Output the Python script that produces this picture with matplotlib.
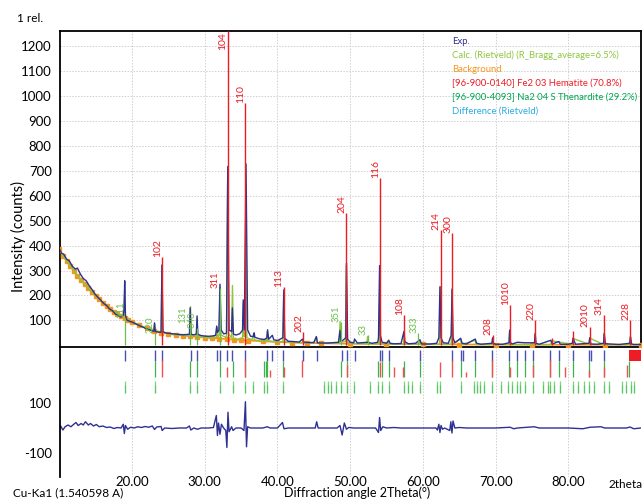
import matplotlib
matplotlib.use("Agg")
import matplotlib.pyplot as plt
import numpy as np

plt.rcParams['font.family'] = ['Lato', 'DejaVu Sans']

# ---------------- data ----------------
# Background (orange)
bg_theta = [10, 10.5, 11, 11.5, 12, 12.5, 13, 13.5, 14, 14.5, 15, 15.5, 16, 16.5, 17, 17.5,
            18, 18.5, 19, 19.5, 20, 21, 22, 23, 24, 25, 26, 27, 28, 29, 30, 31, 32, 33, 34,
            35, 36, 38, 40, 42, 44, 46, 50, 55, 60, 65, 70, 75, 80, 85, 90]
bg_int = [385, 360, 338, 318, 298, 280, 262, 245, 228, 212, 198, 184, 170, 158, 146, 135,
          125, 116, 108, 100, 93, 80, 68, 58, 51, 46, 42, 39, 36, 33, 31, 29, 27, 25, 23,
          21, 19, 16, 13, 11, 9, 8, 6, 5, 4, 3, 3, 2, 2, 2, 2]

# Experimental pattern (navy)
exp_theta = [10.0, 10.3, 10.6, 11.0, 11.4, 11.8, 12.2, 12.5, 12.9, 13.3,
             13.7, 14.1, 14.5, 14.9, 15.3, 15.7, 16.1, 16.5, 16.9, 17.3,
             17.7, 18.1, 18.5, 18.8, 18.9, 19.0, 19.1, 19.3, 19.7, 20.1,
             20.5, 21.0, 21.5, 22.0, 22.5, 23.0, 23.1, 23.2, 23.6, 24.0,
             24.12, 24.25, 24.6, 25.0, 26.0, 27.0, 27.9, 28.0, 28.1, 28.5,
             28.85, 28.95, 29.05, 29.5, 30.0, 30.5, 31.0, 31.5, 31.65, 31.75,
             31.95, 32.1, 32.25, 32.6, 33.0, 33.17, 33.35, 33.7, 33.8, 33.95,
             34.3, 34.8, 35.2, 35.3, 35.45, 35.68, 35.9, 36.3, 36.7, 36.8,
             36.9, 37.5, 38.2, 38.55, 38.65, 38.8, 39.3, 39.5, 40.0, 40.75,
             40.88, 41.0, 41.5, 42.0, 43.0, 43.45, 43.6, 44.0, 45.0, 45.35,
             45.5, 46.0, 47.0, 48.4, 48.6, 48.75, 49.0, 49.4, 49.5, 49.65,
             50.0, 50.5, 50.6, 51.0, 52.4, 53.0, 53.8, 53.9, 54.05, 54.15,
             54.4, 55.0, 55.3, 55.5, 56.0, 57.0, 57.4, 57.5, 58.0, 59.0,
             59.6, 59.8, 60.0, 61.0, 61.9, 62.2, 62.35, 62.5, 62.8, 63.5,
             63.9, 64.02, 64.15, 64.4, 65.2, 65.4, 66.0, 67.2, 67.4, 68.0,
             69.5, 69.6, 69.7, 70.0, 71.0, 71.85, 71.94, 72.05, 72.3, 73.0,
             74.0, 75.35, 75.45, 75.55, 76.0, 77.6, 77.8, 78.7, 78.9, 80.0,
             80.55, 80.65, 81.0, 82.85, 82.95, 83.1, 84.0, 84.85, 84.95, 85.1,
             87.0, 88.45, 88.55, 88.7, 89.0, 90.0]
exp_int = [388, 370, 366, 346, 338, 317, 306, 310, 286, 268,
           259, 240, 224, 206, 193, 181, 168, 160, 146, 139,
           126, 119, 113, 121, 140, 259, 120, 101, 96, 92,
           86, 79, 73, 66, 61, 56, 90, 55, 53, 52,
           322, 55, 50, 48, 45, 42, 44, 150, 44, 42,
           45, 118, 44, 39, 37, 36, 37, 40, 77, 52,
           60, 245, 62, 46, 48, 718, 62, 55, 150, 45,
           41, 46, 60, 182, 62, 728, 62, 36, 35, 50,
           32, 26, 23, 30, 62, 24, 40, 22, 19, 30,
           222, 28, 16, 15, 13, 25, 13, 11, 11, 35,
           10, 9, 9, 12, 60, 15, 20, 30, 330, 25,
           12, 10, 25, 9, 12, 8, 12, 30, 320, 40,
           12, 8, 20, 8, 6, 7, 55, 15, 6, 8,
           22, 6, 5, 5, 8, 30, 235, 30, 10, 8,
           40, 226, 30, 10, 28, 8, 5, 25, 8, 4,
           8, 30, 8, 4, 4, 10, 61, 10, 5, 12,
           10, 10, 48, 8, 4, 20, 5, 15, 4, 4,
           8, 29, 4, 8, 30, 5, 4, 8, 48, 6,
           3, 8, 35, 5, 3, 3]

# Calculated (Rietveld) pattern (light green)
calc_theta = [10.0, 11.0, 12.0, 13.0, 14.0, 15.0, 16.0, 17.0, 18.0, 18.9,
              19.0, 19.1, 20.0, 21.0, 22.0, 23.0, 23.1, 23.2, 24.0, 24.13,
              24.25, 25.0, 26.0, 27.0, 27.95, 28.05, 28.15, 28.85, 28.95, 29.05,
              30.0, 31.0, 31.6, 31.7, 31.8, 32.0, 32.12, 32.25, 33.0, 33.15,
              33.3, 33.7, 33.82, 33.95, 34.5, 35.2, 35.3, 35.4, 35.55, 35.66,
              35.8, 36.5, 36.7, 36.8, 37.5, 38.5, 38.6, 38.7, 39.5, 40.75,
              40.86, 41.0, 42.0, 43.4, 43.52, 43.65, 45.0, 45.4, 45.5, 46.5,
              48.5, 48.62, 48.75, 49.35, 49.48, 49.6, 50.5, 52.3, 52.4, 52.5,
              54.0, 54.09, 54.2, 55.2, 55.3, 55.4, 57.35, 57.45, 57.55, 59.5,
              59.6, 59.7, 62.3, 62.43, 62.55, 63.9, 64.01, 64.12, 65.2, 65.3,
              67.2, 67.3, 69.5, 69.6, 69.7, 71.85, 71.94, 72.05, 75.35, 75.43,
              75.55, 77.6, 77.7, 80.6, 80.7, 82.9, 82.98, 84.85, 84.92, 85.0,
              88.45, 88.55, 88.65, 90.0]
calc_int = [383, 340, 300, 262, 229, 199, 171, 147, 126, 120,
            222, 112, 94, 81, 69, 62, 85, 59, 53, 322,
            52, 46, 42, 39, 40, 155, 38, 37, 110, 36,
            31, 29, 32, 72, 34, 40, 235, 40, 32, 655,
            45, 30, 240, 28, 24, 30, 170, 35, 40, 625,
            30, 22, 45, 22, 18, 17, 55, 18, 15, 14,
            210, 14, 12, 10, 22, 10, 9, 30, 9, 8,
            8, 95, 12, 15, 322, 12, 7, 6, 35, 6,
            6, 316, 6, 6, 20, 5, 5, 55, 5, 5,
            20, 5, 4, 235, 4, 4, 222, 4, 25, 3,
            20, 3, 3, 28, 3, 3, 58, 3, 3, 45,
            3, 3, 18, 3, 27, 3, 28, 3, 45, 3,
            3, 33, 3, 3]

# Hematite sticks (red) and labels
hem_theta = [24.14, 33.15, 35.61, 40.85, 43.52, 49.48, 54.09, 57.43, 62.45, 64.02,
             69.60, 71.94, 75.43, 77.70, 80.70, 82.96, 84.90, 88.55]
hem_int = [355, 1262, 973, 235, 53, 531, 672, 121, 463, 450,
           41, 162, 101, 30, 57, 73, 121, 101]
hem_labels = ['102', '104', '110', '113', '202', '204', '116', '108', '214', '300',
              '208', '1010', '220', '', '', '2010', '314', '228']

# Thenardite sticks (green) and labels
then_theta = [19.03, 23.10, 28.03, 28.97, 32.10, 48.75, 52.40, 59.40]
then_int = [110, 50, 90, 70, 230, 93, 41, 50]
then_labels = ['111', '220', '131', '040', '311', '351', '33', '333']
then_label_color = ['g', 'g', 'g', 'g', 'r', 'g', 'g', 'g']

# Peak-position markers (lower panel)
obs_pos = [19.0, 23.1, 24.1, 28.1, 28.9, 31.7, 32.1, 33.1, 33.8, 35.6, 38.6, 39.3, 40.8,
           43.5, 45.4, 48.9, 49.5, 50.7, 54.1, 54.4, 55.3, 59.6, 64.0, 65.3, 65.5, 67.2,
           69.5, 71.9, 73.0, 74.0, 75.2, 77.5, 78.7, 80.6, 82.9, 83.1, 84.9]
hem_mark_pos = [24.1, 33.1, 35.6, 39.0, 40.85, 43.4, 49.5, 54.1, 56.1, 57.3,
                62.4, 64.0, 65.9, 69.5, 72.0, 75.1, 77.5, 79.5, 82.8, 84.9,
                88.1]
hem_mark_len = [17, 10, 17, 7, 10, 17, 12, 15, 10, 10,
                15, 17, 5, 17, 10, 12, 17, 10, 7, 10,
                12]
then_mid_pos = [23.1, 28.0, 28.9, 32.1, 33.9, 35.6, 38.2, 38.4, 38.6, 40.8, 48.7, 49.5, 53.9,
                54.4, 55.3, 57.4, 59.6, 65.2, 67.2, 69.5, 71.9, 73.0, 74.0, 75.2, 77.5, 78.7,
                80.6, 82.9, 84.9, 88.3]
then_low_pos = [19.0, 23.1, 28.0, 28.9, 32.1, 33.9, 35.6, 36.7, 38.2, 38.6, 40.8, 46.4, 47.0,
                47.3, 48.0, 48.7, 49.5, 50.5, 52.7, 53.9, 54.4, 55.3, 57.4, 57.9, 58.5, 59.6,
                61.9, 62.3, 65.2, 67.1, 67.4, 67.9, 68.4, 69.5, 70.7, 71.7, 72.3, 72.9, 73.4,
                74.0, 75.2, 76.5, 77.2, 77.5, 78.0, 78.8, 80.7, 81.4, 82.1, 82.8, 83.5, 84.9,
                85.6, 87.4, 87.9, 88.6, 89.0]

# Difference curve
diff_theta = [10.0, 10.2, 10.5, 10.8, 11.2, 11.6, 12.0, 12.3, 12.6, 13.0,
              13.3, 13.6, 14.0, 14.3, 14.7, 15.1, 15.5, 16.0, 16.5, 17.0,
              17.5, 18.0, 18.5, 18.8, 18.95, 19.1, 19.4, 19.8, 20.3, 20.8,
              21.3, 21.8, 22.3, 22.8, 23.1, 23.4, 24.0, 24.15, 24.5, 25.5,
              26.5, 27.5, 27.9, 28.1, 28.5, 29.0, 29.5, 30.5, 31.2, 31.6,
              31.75, 31.9, 32.1, 32.3, 32.6, 32.9, 33.05, 33.2, 33.35, 33.7,
              33.9, 34.3, 35.0, 35.4, 35.6, 35.75, 35.9, 36.3, 37.0, 38.0,
              38.6, 39.0, 40.0, 40.7, 40.9, 41.5, 43.0, 44.0, 45.2, 45.4,
              45.6, 47.0, 48.2, 48.6, 48.9, 49.2, 49.5, 49.8, 50.5, 53.5,
              53.9, 54.05, 54.2, 54.5, 55.0, 56.0, 57.0, 59.0, 61.8, 62.0,
              62.2, 62.35, 62.5, 62.7, 63.0, 63.7, 63.85, 64.0, 64.15, 64.4,
              65.0, 66.0, 70.0, 72.0, 72.5, 73.0, 75.3, 76.0, 80.0, 82.0,
              83.0, 84.5, 85.0, 88.0, 88.5, 89.0, 90.0]
diff_int = [-5, 8, -8, 5, 12, 5, 15, 22, 10, 18,
            12, 25, 12, 18, 8, 14, 5, 8, 2, 4,
            -2, 2, 0, 15, -22, 10, -5, 3, 0, 5,
            2, 6, 3, 8, -6, 4, 6, -10, 0, -2,
            0, 0, 8, -8, 0, -5, 0, 0, 2, 50,
            -30, 20, -25, 15, 0, -10, -78, 63, -15, 5,
            -10, 0, 0, -10, 105, -75, 5, 0, 0, 0,
            5, 0, 0, 22, -3, 0, 0, 0, 0, 25,
            0, 0, 0, 10, -28, 20, -5, 2, 0, 0,
            -18, 42, -10, 5, 0, 2, 0, 0, 0, -8,
            15, -18, 10, -5, 0, -10, 25, -20, 28, 0,
            2, 0, 0, 3, -3, 0, 5, 0, 0, -3,
            3, 5, 0, 0, 4, -3, 0]

legend_texts = ['Exp.', 'Calc. (Rietveld) (R_Bragg_average=6.5%)', 'Background',
                '[96-900-0140] Fe2 03 Hematite (70.8%)',
                '[96-900-4093] Na2 04 S Thenardite (29.2%)', 'Difference (Rietveld)']

# ---------------- style ----------------
C_EXP = '#2e3192'
C_CALC = '#8dc63f'
C_BG = '#f7941d'
C_HEM = '#ed1c24'
C_THEN = '#00a651'
C_THEN_L = '#7cd67c'
C_DIFF = '#29abe2'

W, H = 644, 500
fig = plt.figure(figsize=(W / 100, H / 100), dpi=100)

def fx(px):
    return px / W

def fy(py):
    return 1 - py / H

L, R, T, M, B = 60, 641, 31, 347, 477
ax = fig.add_axes([fx(L), fy(M), fx(R - L), (M - T) / H])
ax2 = fig.add_axes([fx(L), fy(B), fx(R - L), (B - M) / H], sharex=ax)

XMIN, XMAX = 10.1, 90.0
YMAX = 1262
ax.set_xlim(XMIN, XMAX)
ax.set_ylim(-7, YMAX)

ax.set_yticks(np.arange(100, 1300, 100))
ax.set_xticks(np.arange(20, 90, 10))
ax.tick_params(axis='both', length=0, labelsize=9.5)
ax.tick_params(axis='x', labelbottom=False)
ax.tick_params(axis='y', pad=6)
ax.grid(True, color='#d0d0d0', linestyle=(0, (1.5, 1.5)), linewidth=0.7)
for s in ax.spines.values():
    s.set_linewidth(1.3)
    s.set_color('black')

# curves
ax.plot(bg_theta, bg_int, color=C_BG, lw=1.2, marker='s', ms=2.6, zorder=3)
ax.plot(calc_theta, calc_int, color=C_CALC, lw=1.0, zorder=4)
ax.plot(exp_theta, exp_int, color=C_EXP, lw=1.0, zorder=5)

# thenardite sticks
label_nudge = {'131': -2.0}   # points, to keep neighbouring labels apart
ax.vlines(then_theta, 0, then_int, color='#6cc04a', lw=0.9, zorder=5)
for t, h, lab, c in zip(then_theta, then_int, then_labels, then_label_color):
    col = C_HEM if c == 'r' else '#6cc04a'
    ax.annotate(lab, (t, h), xytext=(label_nudge.get(lab, 0), 0), textcoords='offset points',
                rotation=90, ha='right', va='bottom', fontsize=6.8, color=col, zorder=7)

# hematite sticks
ax.vlines(hem_theta, 0, hem_int, color=C_HEM, lw=1.0, zorder=6)
for t, h, lab in zip(hem_theta, hem_int, hem_labels):
    if not lab:
        continue
    if h >= YMAX - 20:
        ax.text(t, YMAX - 5, lab, rotation=90, ha='right', va='top', fontsize=7.5,
                color=C_HEM, zorder=7)
    else:
        ax.text(t, h, lab, rotation=90, ha='right', va='bottom', fontsize=7.5,
                color=C_HEM, zorder=7)

# legend (text only)
for i, (txt, col) in enumerate(zip(legend_texts, [C_EXP, C_CALC, C_BG, C_HEM, C_THEN, C_DIFF])):
    fig.text(fx(452), fy(41 + i * 14), txt, color=col, fontsize=6.8, va='center', ha='left')

# ---------------- lower panel ----------------
ax2.set_ylim(-196, 324)
ax2.set_yticks([-100, 100])
ax2.set_yticklabels(['-100', '100'])
ax2.set_xticks(np.arange(20, 90, 10))
ax2.set_xticklabels(['%.2f' % v for v in np.arange(20, 90, 10)])
ax2.tick_params(axis='both', length=0, labelsize=9.5)
ax2.tick_params(axis='y', pad=6)
ax2.tick_params(axis='x', pad=-1)
ax2.grid(True, axis='x', color='#d0d0d0', linestyle=(0, (1.5, 1.5)), linewidth=0.7)
for k in ['top', 'right', 'bottom']:
    ax2.spines[k].set_visible(False)
ax2.spines['left'].set_linewidth(1.3)
ax2.patch.set_alpha(0)

def ly(py):
    # pixel row -> lower axis data value
    return (428 - py) * 4

ax2.vlines(obs_pos, ly(361), ly(350), color='#4a4fb0', lw=1.0)
ax2.vlines(then_mid_pos, ly(377), ly(361), color='#3cb44b', lw=0.9)
ax2.vlines(then_low_pos, ly(393), ly(381), color=C_THEN_L, lw=0.9)
ax2.vlines(then_low_pos, ly(393), ly(385), color='#3cb44b', lw=0.9, alpha=0.5)
ax2.vlines(hem_mark_pos, ly(377), [ly(377 - l) for l in hem_mark_len], color='#f05050', lw=1.0)
ax2.add_patch(plt.Rectangle((88.4, ly(361)), 1.6, ly(350) - ly(361), color='#ee1c24',
                            lw=0, zorder=5))
ax2.plot(diff_theta, diff_int, color=C_EXP, lw=1.0)

# ---------------- texts ----------------
fig.text(fx(17), fy(19), '1 rel.', fontsize=8.5, va='center', ha='left')
fig.text(fx(18), fy(236), 'Intensity (counts)', rotation=90, fontsize=10.5, va='center', ha='center')
fig.text(fx(13), fy(493), 'Cu-Ka1 (1.540598 A)', fontsize=8.5, va='center', ha='left')
fig.text(fx(357), fy(493), 'Diffraction angle 2Theta(°)', fontsize=9, va='center', ha='center')
fig.text(fx(643), fy(485), '2theta', fontsize=8.5, va='center', ha='right')

fig.savefig('out.png', dpi=100)
